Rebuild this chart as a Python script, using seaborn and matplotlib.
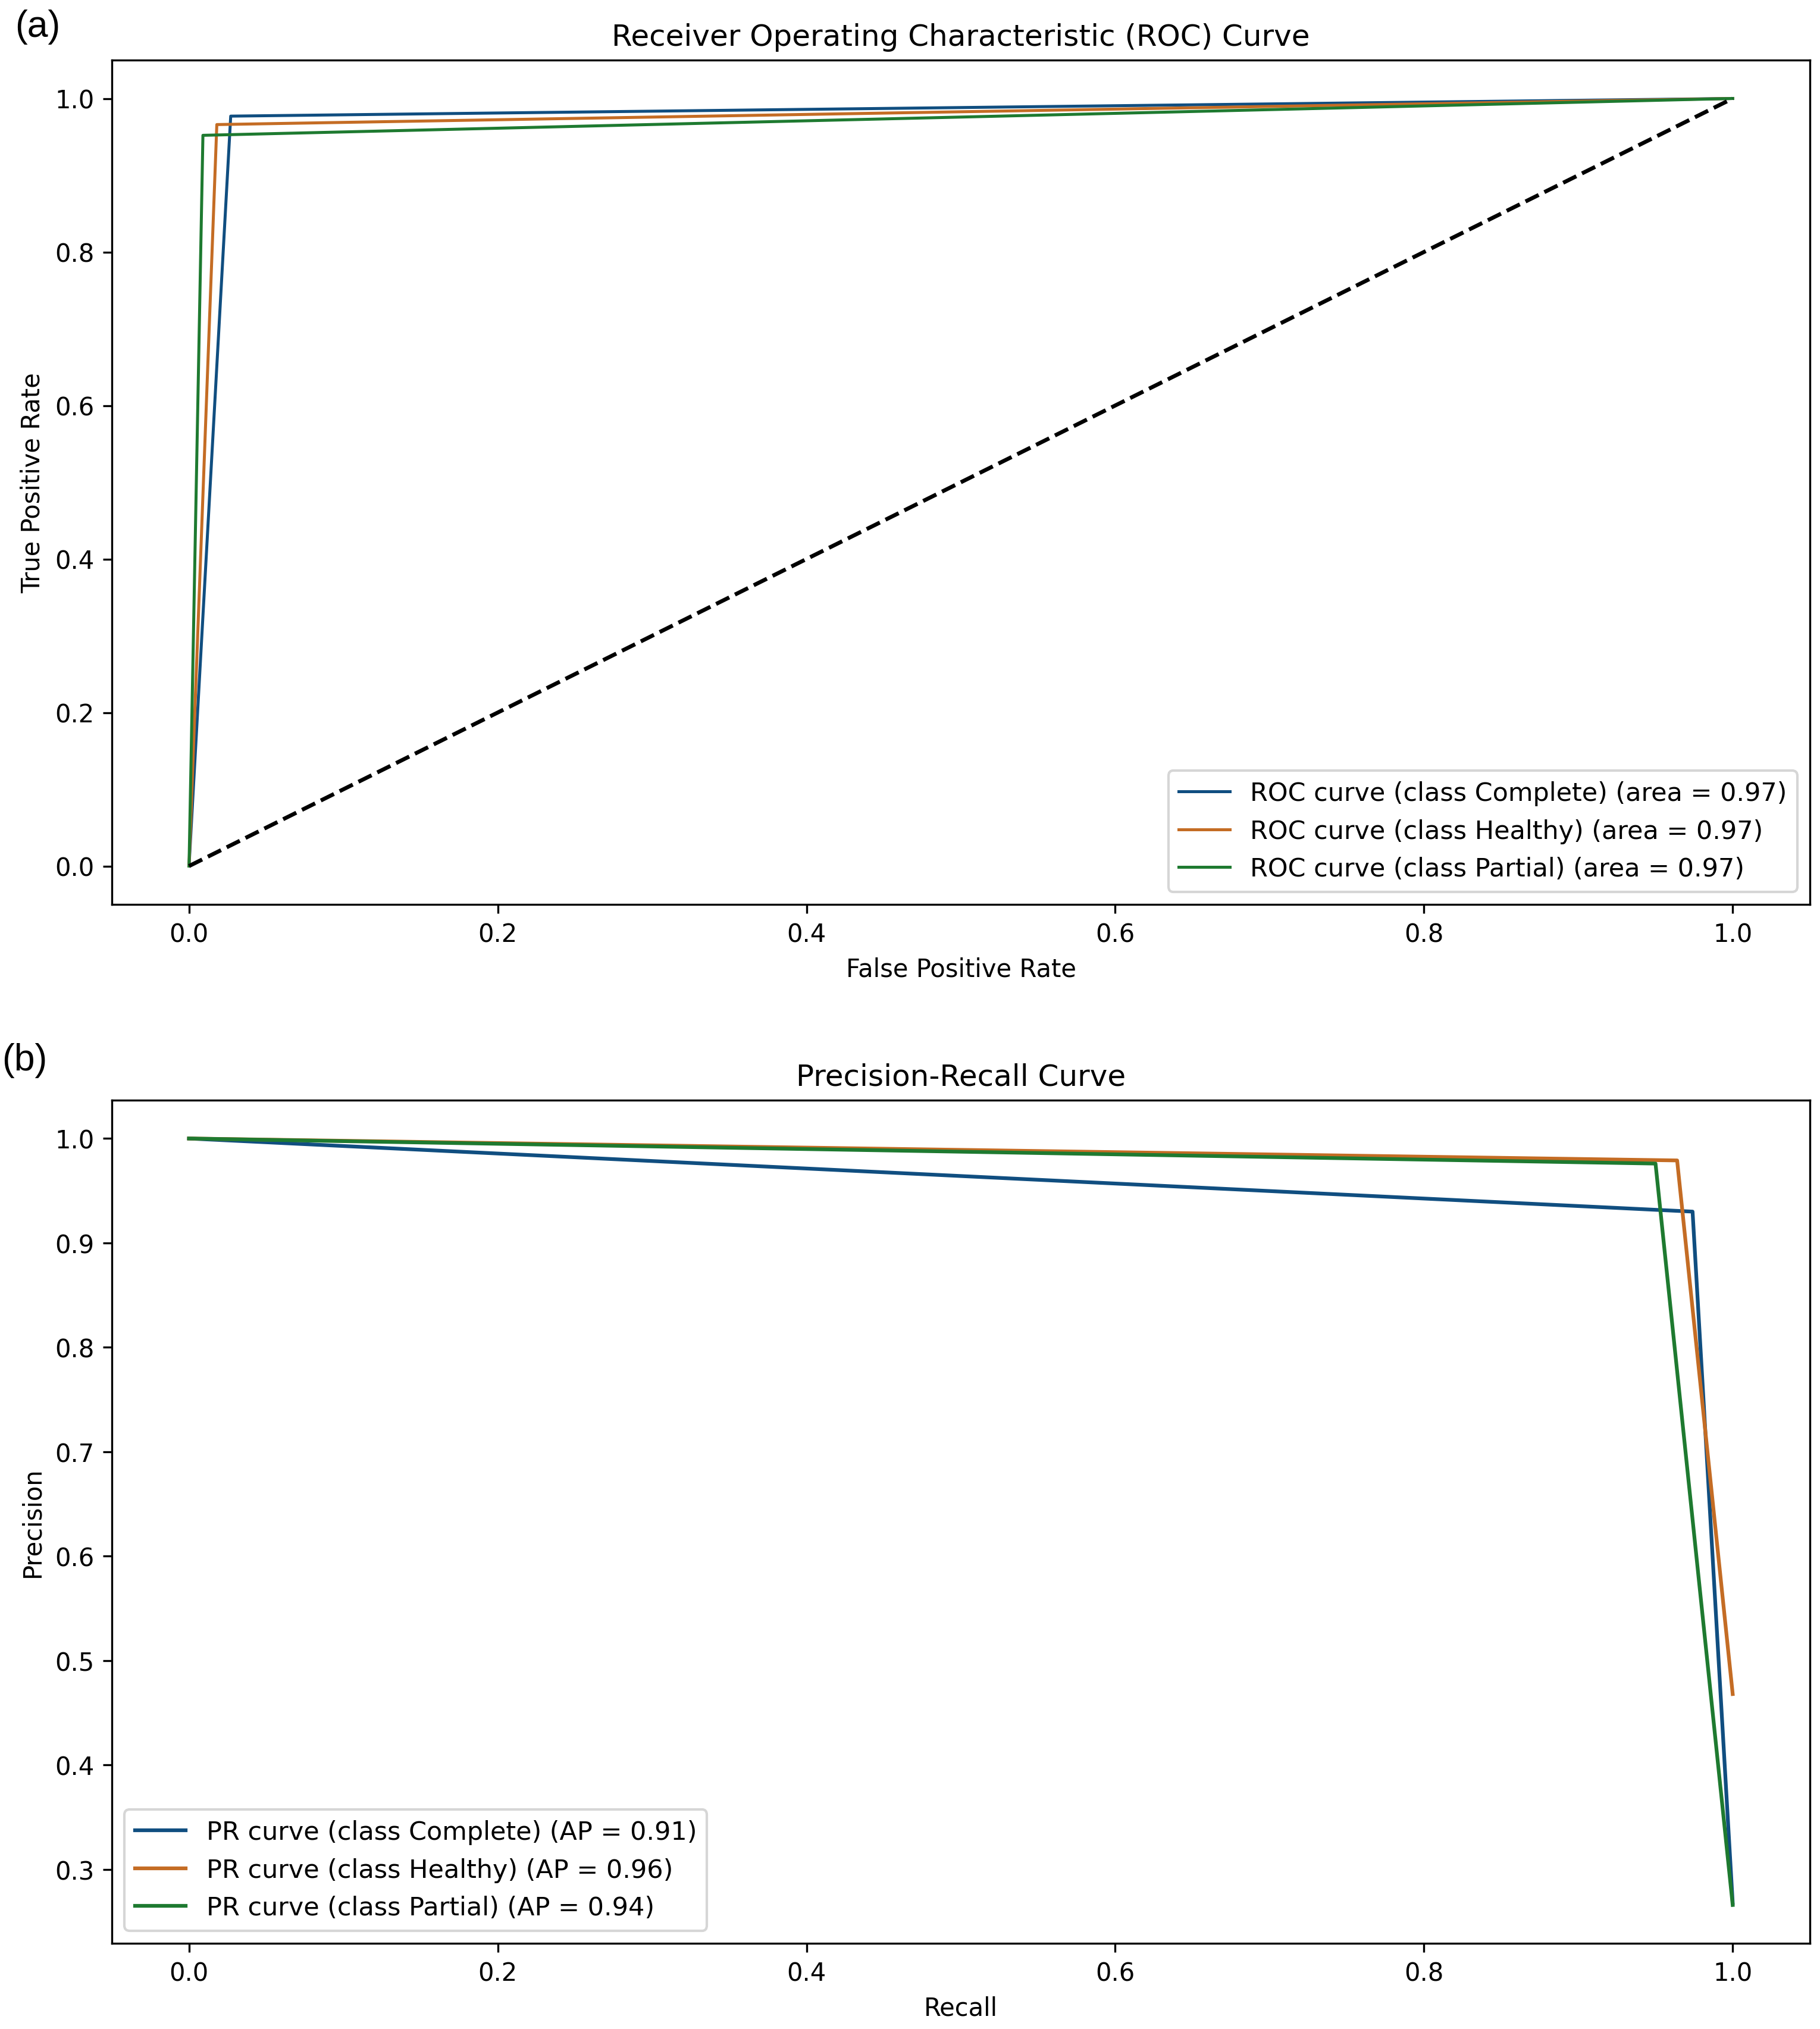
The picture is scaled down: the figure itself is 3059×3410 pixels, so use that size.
import matplotlib
matplotlib.use("Agg")
import matplotlib.pyplot as plt
import seaborn as sns
import pandas as pd

# ---- data ----
classes = ["Complete", "Healthy", "Partial"]
colors = ["#104e80", "#c46c24", "#1e7a30"]

roc_fpr = {
    "Complete": [0.0, 0.027, 1.0],
    "Healthy": [0.0, 0.018, 1.0],
    "Partial": [0.0, 0.009, 1.0],
}
roc_tpr = {
    "Complete": [0.0, 0.977, 1.0],
    "Healthy": [0.0, 0.966, 1.0],
    "Partial": [0.0, 0.952, 1.0],
}
roc_auc = {"Complete": 0.97, "Healthy": 0.97, "Partial": 0.97}

pr_recall = {
    "Complete": [1.0, 0.974, 0.0],
    "Healthy": [1.0, 0.964, 0.0],
    "Partial": [1.0, 0.950, 0.0],
}
pr_precision = {
    "Complete": [0.268, 0.930, 1.0],
    "Healthy": [0.468, 0.979, 1.0],
    "Partial": [0.266, 0.976, 1.0],
}
pr_ap = {"Complete": 0.91, "Healthy": 0.96, "Partial": 0.94}

diag_x = [0.0, 1.0]
diag_y = [0.0, 1.0]

# ---- figure ----
plt.rcParams["font.family"] = ["DejaVu Sans"]
plt.rcParams["font.size"] = 10

fig = plt.figure(figsize=(3059 / 300, 3411 / 300), dpi=300)
L, R = 188 / 3059, 3042 / 3059
ax1 = fig.add_axes([L, 1 - 1521 / 3411, R - L, (1521 - 102) / 3411])
ax2 = fig.add_axes([L, 1 - 3267 / 3411, R - L, (3267 - 1850) / 3411])

# ROC
for cls, col in zip(classes, colors):
    df = pd.DataFrame({"x": roc_fpr[cls], "y": roc_tpr[cls]})
    sns.lineplot(data=df, x="x", y="y", sort=False, estimator=None, color=col,
                 lw=1.2, ax=ax1,
                 label=f"ROC curve (class {cls}) (area = {roc_auc[cls]:.2f})")
sns.lineplot(x=diag_x, y=diag_y, sort=False, estimator=None, color="k",
             linestyle="--", lw=1.6, ax=ax1)
ax1.set_title("Receiver Operating Characteristic (ROC) Curve", fontsize=12)
ax1.set_xlabel("False Positive Rate", fontsize=10)
ax1.set_ylabel("True Positive Rate", fontsize=10)
ax1.legend(loc="lower right", fontsize=10.3)

# PR
for cls, col in zip(classes, colors):
    df = pd.DataFrame({"x": pr_recall[cls], "y": pr_precision[cls]})
    sns.lineplot(data=df, x="x", y="y", sort=False, estimator=None, color=col,
                 lw=1.5, ax=ax2,
                 label=f"PR curve (class {cls}) (AP = {pr_ap[cls]:.2f})")
ax2.set_title("Precision-Recall Curve", fontsize=12)
ax2.set_xlabel("Recall", fontsize=10)
ax2.set_ylabel("Precision", fontsize=10)
ax2.legend(loc="lower left", fontsize=10.3)

for ax in (ax1, ax2):
    ax.tick_params(labelsize=10)

fig.text(25 / 3059, 1 - 62 / 3411, "(a)", fontsize=15,
         family=["Liberation Sans", "DejaVu Sans"], va="baseline", ha="left")
fig.text(3 / 3059, 1 - 1799 / 3411, "(b)", fontsize=15,
         family=["Liberation Sans", "DejaVu Sans"], va="baseline", ha="left")

fig.savefig("out.png", dpi=300)
